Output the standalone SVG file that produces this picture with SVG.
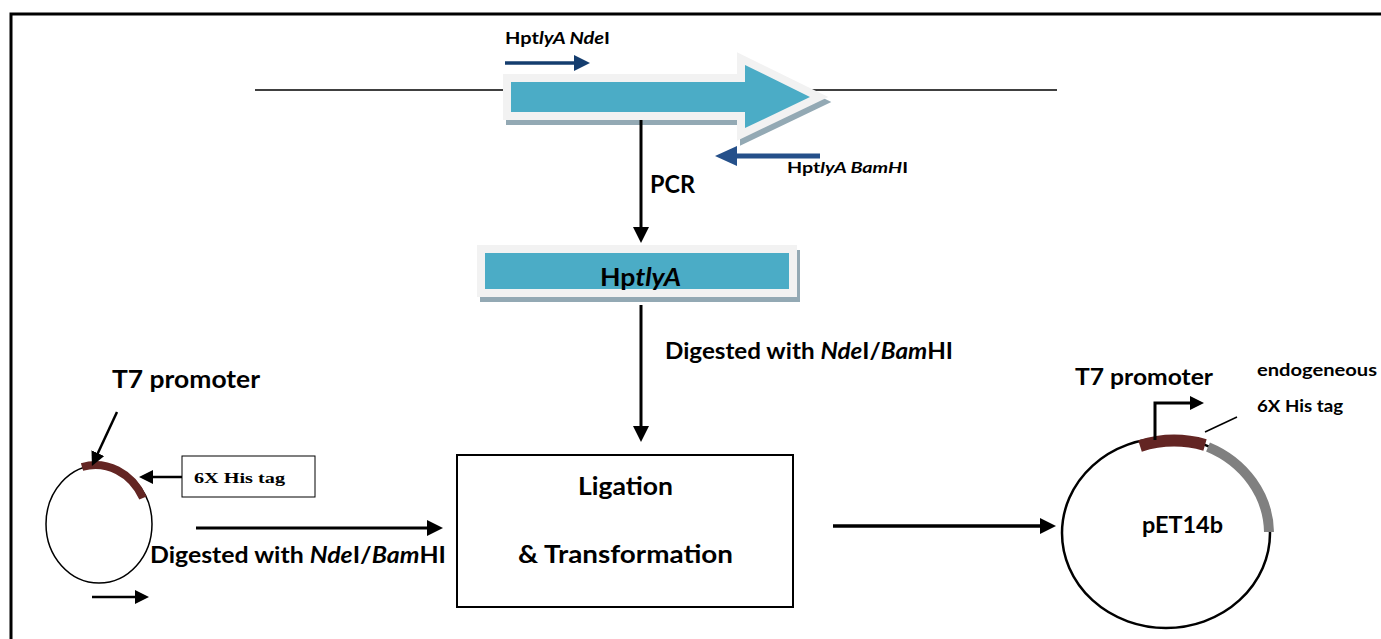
<svg xmlns="http://www.w3.org/2000/svg" width="1381" height="639" viewBox="0 0 1381 639">
<style>
.t{font-family:Lato,"Open Sans","Liberation Sans",sans-serif;font-weight:bold;fill:#000}
.s{font-family:"Liberation Serif","Times New Roman",serif;font-weight:bold;fill:#000}
.ln{stroke:#000;fill:none}
</style>
<defs>
<marker id="ah" viewBox="0 0 16 16" refX="2" refY="8" markerWidth="16" markerHeight="16" orient="auto" markerUnits="userSpaceOnUse"><path d="M0,0 L16,8 L0,16 z" fill="#000"/></marker>
<marker id="ahs" viewBox="0 0 14 14" refX="2" refY="7" markerWidth="14" markerHeight="14" orient="auto" markerUnits="userSpaceOnUse"><path d="M0,0 L14,7 L0,14 z" fill="#000"/></marker>
<marker id="ahn" viewBox="0 0 16 16" refX="2" refY="8" markerWidth="16" markerHeight="16" orient="auto" markerUnits="userSpaceOnUse"><path d="M0,0 L16,8 L0,16 z" fill="#143d6e"/></marker>
<marker id="ahb" viewBox="0 0 22 20" refX="2" refY="10" markerWidth="22" markerHeight="20" orient="auto" markerUnits="userSpaceOnUse"><path d="M0,0 L22,10 L0,20 z" fill="#25508a"/></marker>
</defs>
<rect width="1381" height="639" fill="#fff"/>
<path d="M11,639 V14 H1381" stroke="#000" stroke-width="3" fill="none"/>
<line x1="255" y1="90" x2="1057" y2="90" stroke="#000" stroke-width="1.5"/>

<g id="gene-arrow">
<polygon points="511,82 745,82 745,65 810,97 745,128 745,112 511,112" transform="translate(3,5)" fill="#93a9b4" stroke="#93a9b4" stroke-width="16"/>
<polygon points="511,82 745,82 745,65 810,97 745,128 745,112 511,112" fill="#4bacc6" stroke="#f2f2f2" stroke-width="16" paint-order="stroke"/>
</g>

<g id="primer-nde">
<text class="t" x="505" y="44" font-size="17" textLength="105" lengthAdjust="spacingAndGlyphs">Hpt<tspan font-style="italic">lyA Nde</tspan>I</text>
</g>
<g id="primer-bam">
<text class="t" x="787" y="173" font-size="16" textLength="121" lengthAdjust="spacingAndGlyphs">Hpt<tspan font-style="italic">lyA BamH</tspan>I</text>
</g>

<g id="hptlya-box">
<rect x="485" y="253" width="304" height="36" transform="translate(3,5)" fill="#93a9b4" stroke="#93a9b4" stroke-width="16"/>
<rect x="485" y="253" width="304" height="36" fill="#4bacc6" stroke="#f2f2f2" stroke-width="16" paint-order="stroke"/>
<text class="t" x="600" y="286" font-size="25" textLength="81" lengthAdjust="spacingAndGlyphs">Hp<tspan font-style="italic">tlyA</tspan></text>
</g>

<g id="ligation-box">
<rect x="457" y="455" width="336" height="152" fill="#fff" stroke="#000" stroke-width="2"/>
<text class="t" x="578" y="495" font-size="24" textLength="95" lengthAdjust="spacingAndGlyphs">Ligation</text>
<text class="t" x="518" y="563" font-size="24" textLength="215" lengthAdjust="spacingAndGlyphs">&amp; Transformation</text>
</g>

<g id="vector-left">
<ellipse cx="99" cy="524" rx="53" ry="59" fill="none" stroke="#000" stroke-width="1.5"/>
<path d="M82,467 A53,59 0 0,1 143,498" fill="none" stroke="#632523" stroke-width="8"/>
<text class="t" x="112" y="388" font-size="24" textLength="148" lengthAdjust="spacingAndGlyphs">T7 promoter</text>
<rect x="182" y="456" width="133" height="41" fill="#fff" stroke="#000" stroke-width="1"/>
<text class="s" x="194" y="483" font-size="15" textLength="91" lengthAdjust="spacingAndGlyphs">6X His tag</text>
</g>

<g id="vector-right">
<ellipse cx="1166" cy="533" rx="104" ry="95" fill="none" stroke="#000" stroke-width="2.5"/>
<path d="M1208,447 A104,95 0 0,1 1269,532" fill="none" stroke="#808080" stroke-width="10"/>
<path d="M1140,446 A104,95 0 0,1 1205,445" fill="none" stroke="#632523" stroke-width="12"/>
<text class="t" x="1075" y="385" font-size="23" textLength="138" lengthAdjust="spacingAndGlyphs">T7 promoter</text>
<text class="t" x="1257" y="376" font-size="17" textLength="120" lengthAdjust="spacingAndGlyphs">endogeneous</text>
<text class="t" x="1257" y="412" font-size="17" textLength="86" lengthAdjust="spacingAndGlyphs">6X His tag</text>
<text class="t" x="1142" y="533" font-size="22" textLength="81" lengthAdjust="spacingAndGlyphs">pET14b</text>
</g>

<g id="connectors">
<line x1="505" y1="63" x2="576" y2="63" stroke="#143d6e" stroke-width="3.5" marker-end="url(#ahn)"/>
<line x1="820" y1="156" x2="735" y2="156" stroke="#25508a" stroke-width="5" marker-end="url(#ahb)"/>
<line class="ln" x1="641" y1="120" x2="641" y2="229" stroke-width="3" marker-end="url(#ah)"/>
<text class="t" x="650" y="193" font-size="24" textLength="45" lengthAdjust="spacingAndGlyphs">PCR</text>
<line class="ln" x1="641" y1="305" x2="641" y2="428" stroke-width="3" marker-end="url(#ah)"/>
<text class="t" x="665" y="359" font-size="22" textLength="288" lengthAdjust="spacingAndGlyphs">Digested with <tspan font-style="italic">Nde</tspan>I/<tspan font-style="italic">Bam</tspan>HI</text>
<line class="ln" x1="117" y1="412" x2="97" y2="455" stroke-width="2.5" marker-end="url(#ahs)"/>
<line class="ln" x1="182" y1="477" x2="151" y2="477" stroke-width="2.5" marker-end="url(#ahs)"/>
<line class="ln" x1="196" y1="528" x2="429" y2="528" stroke-width="3" marker-end="url(#ah)"/>
<text class="t" x="150" y="563" font-size="22" textLength="296" lengthAdjust="spacingAndGlyphs">Digested with <tspan font-style="italic">Nde</tspan>I/<tspan font-style="italic">Bam</tspan>HI</text>
<line class="ln" x1="92" y1="597" x2="137" y2="597" stroke-width="2.5" marker-end="url(#ahs)"/>
<line class="ln" x1="833" y1="526" x2="1042" y2="526" stroke-width="3.5" marker-end="url(#ah)"/>
<polyline class="ln" points="1155,440 1155,403 1192,403" stroke-width="3" marker-end="url(#ahs)"/>
<line class="ln" x1="1205" y1="432" x2="1237" y2="417" stroke-width="1.5"/>
</g>
</svg>
